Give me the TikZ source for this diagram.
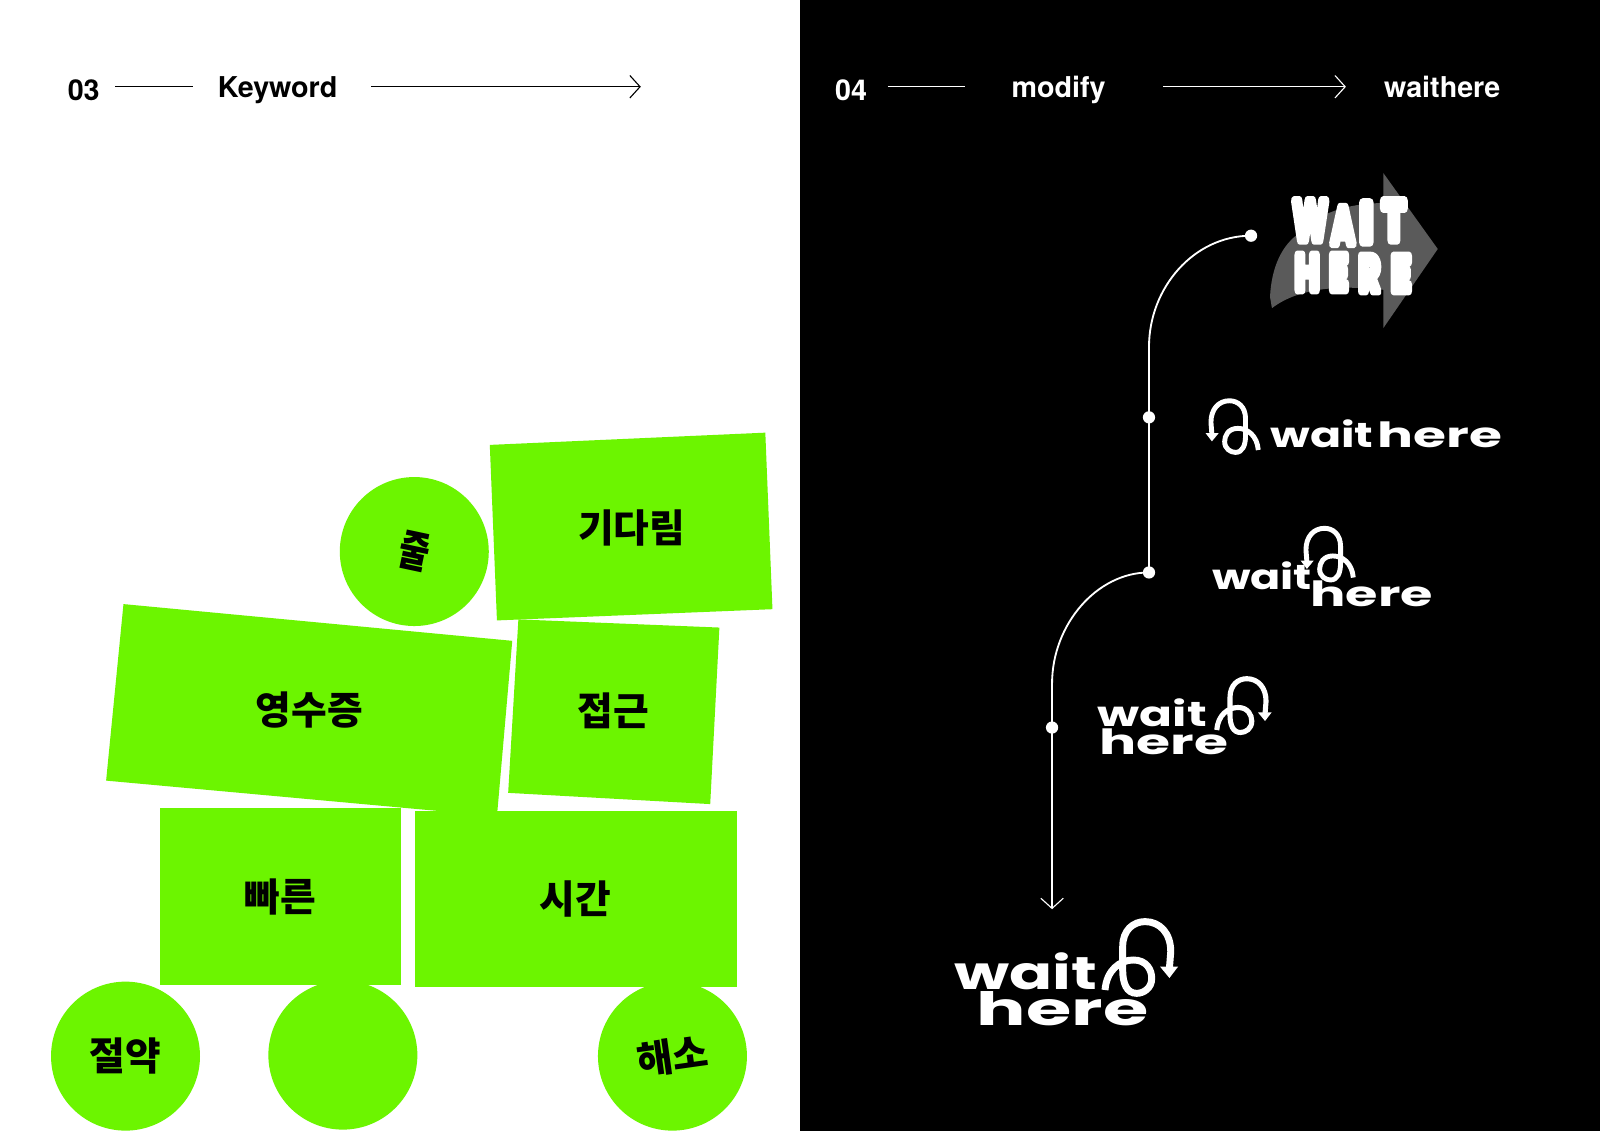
\documentclass[tikz,border=0pt]{standalone}
\usepackage{fontspec}
\usepackage{graphicx}
\setmainfont{TeX Gyre Heros}
\newfontfamily\kr{Noto Sans CJK KR Black}
\newfontfamily\logo{Poppins}[UprightFont=* Bold]
\newfontfamily\bubble{Poppins}[UprightFont=* Bold,FakeBold=16]
\definecolor{lime}{HTML}{6CF500}
\definecolor{arrowgray}{HTML}{5A5A5A}
\newcommand\loopmark[4]{%
 \begin{scope}[shift={(#1,#2)},xscale=#3*0.327,yscale=0.327*abs(#3),line width=#4]
  \draw[white,line cap=butt] (0,0) .. controls (5,-60) and (45,-90) .. (85,-90)
   .. controls (125,-90) and (140,-60) .. (140,-35)
   .. controls (140,-5) and (115,10) .. (95,10)
   .. controls (65,10) and (53,-20) .. (53,-60) -- (53,-130)
   .. controls (53,-180) and (85,-205) .. (120,-205)
   .. controls (165,-205) and (197,-170) .. (197,-115) -- (193,-65);
  \fill[white] (165,-70) -- (219,-70) -- (193,-36) -- cycle;
 \end{scope}}
\newcommand\lw[3]{\resizebox{#1pt}{\height}{\fontsize{#2}{#2}\logo #3}}
\tikzset{
 x=0.5pt,y=-0.5pt,
 box/.style={fill=lime,draw=none},
 kw/.style={font=\fontsize{19}{19}\kr,text=black,inner sep=0pt},
 ball/.style={circle,fill=lime,minimum size=73pt,inner sep=0pt,font=\fontsize{19}{19}\kr},
 hd/.style={font=\fontsize{14.05}{14}\bfseries,inner sep=0pt,anchor=base west},
 dot/.style={circle,fill=white,inner sep=0pt,minimum size=6pt},
 rule/.style={line width=0.55pt},
 openhead/.style={-{Straight Barb[length=5pt,width=11pt,line width=0.55pt]}},
 word/.style={white,inner sep=0pt,anchor=base west},
 bub/.style={white,inner sep=0pt,font=\fontsize{27}{27}\bubble},
}
\usetikzlibrary{arrows.meta}
\begin{document}
\begin{tikzpicture}
\useasboundingbox (0,0) rectangle (1568,1108.4);
\fill[white] (0,0) rectangle (784,1108.4);
\fill[black] (784,0) rectangle (1568,1108.4);

% header left
\node[hd] (n03) at (66,98) {03};
\coordinate (a1) at (113,85); \coordinate (a2) at (189,85);
\draw[rule] (a1) -- (a2);
\node[hd] (kwd) at (213,96) {Keyword};
\coordinate (a3) at (364,85); \coordinate (a4) at (628,85);
\draw[rule,openhead] (a3) -- (a4);

% header right
\node[hd,white] (n04) at (818,98) {04};
\coordinate (b1) at (870,85); \coordinate (b2) at (946,85);
\draw[rule,white] (b1) -- (b2);
\node[hd,white] (mod) at (991,96) {modify};
\coordinate (b3) at (1140,85); \coordinate (b4) at (1319,85);
\draw[rule,white,openhead] (b3) -- (b4);
\node[hd,white] (wh) at (1356,96) {waithere};

% green blocks
\fill[box] (480,436) -- (750,424) -- (757,597) -- (487,608) -- cycle;
\fill[box] (508,607) -- (705,615) -- (696,788) -- (498,777) -- cycle;
\fill[box] (121,592) -- (502,628) -- (487,800) -- (104,765) -- cycle;
\fill[box] (157,792) rectangle (393,965);
\fill[box] (407,795) rectangle (722,967);
\node[kw] (t1) at (619,517) {기다림};
\node[kw] (t2) at (601,697) {접근};
\node[kw] (t3) at (303,696) {영수증};
\node[kw] (t4) at (275,879) {빠른};
\node[kw] (t5) at (564,881) {시간};
\node[ball] (c1) at (406,540.5) {};
\node[kw,rotate=-12,xscale=0.85,yscale=1.1] (c1t) at (c1) {줄};
\node[ball] (c2) at (123,1035) {절약};
\node[ball] (c3) at (336,1034) {};
\node[ball] (c4) at (659,1035) {};
\node[kw,rotate=8] (c4t) at (c4) {해소};

% connector
\node[dot] (d1) at (1226,231) {};
\node[dot] (d2) at (1126,409) {};
\node[dot] (d3) at (1126,561) {};
\node[dot] (d4) at (1031,713) {};
\coordinate (e1) at (1126,340);
\coordinate (e2) at (1031,670);
\coordinate (e3) at (1031,891);
\draw[white,line width=0.9pt] (d1.center) .. controls (1170,231) and (1126,282) .. (e1) -- (d2.center) -- (d3.center);
\draw[white,line width=0.9pt] (d3.center) .. controls (1075,561) and (1031,612) .. (e2) -- (d4.center);
\draw[white,line width=0.7pt,openhead] (d4.center) -- (e3);

% gray arrow
\fill[arrowgray] (1244.6,291) .. controls (1246,262) and (1256,240) .. (1274,228)
 .. controls (1295,205) and (1330,199) .. (1355.6,199) -- (1355.6,169.5) -- (1409,244) -- (1355.6,321.6) -- (1355.6,284)
 .. controls (1320,280) and (1275,280) .. (1246.5,302) -- cycle;

% bubble title
\begin{scope}[line join=round,line cap=round]
\node[bub,xscale=0.6,yscale=1.02] (w1) at (1284,216) {W};
\node[bub,xscale=0.58,yscale=0.95] (w2) at (1316,221) {A};
\node[bub,xscale=0.8,yscale=1.02] (w3) at (1339,218) {I};
\node[bub,xscale=0.72,yscale=1.02] (w4) at (1366,216) {T};
\node[bub,xscale=0.6,yscale=0.92] (h1) at (1281,267) {H};
\node[bub,xscale=0.62,yscale=0.92] (h2) at (1312,267) {E};
\node[bub,xscale=0.6,yscale=0.92] (h3) at (1342,268) {R};
\node[bub,xscale=0.66,yscale=0.92] (h4) at (1373,268) {E};
\end{scope}

% logos
\node[word] (la1) at (1244.6,439) {\lw{50.5}{17}{wait}};
\node[word] (la2) at (1350,439) {\lw{61}{17}{here}};
\loopmark{1233.1}{441}{-0.72}{2.4pt}

\node[word] (lb1) at (1187.4,578) {\lw{49}{17}{wait}};
\node[word] (lb2) at (1283.8,594.5) {\lw{60}{17}{here}};
\loopmark{1326.2}{566}{-0.72}{2.4pt}

\node[word] (lc1) at (1075.4,712) {\lw{53.5}{17}{wait}};
\node[word] (lc2) at (1077,739.3) {\lw{63}{17}{here}};
\loopmark{1192.4}{715.4}{0.75}{2.5pt}

\node[word] (ld1) at (935,970) {\lw{70}{22.5}{wait}};
\node[word] (ld2) at (957,1005) {\lw{84}{22.5}{here}};
\loopmark{1082.9}{970.2}{1}{3.4pt}
\end{tikzpicture}
\end{document}
